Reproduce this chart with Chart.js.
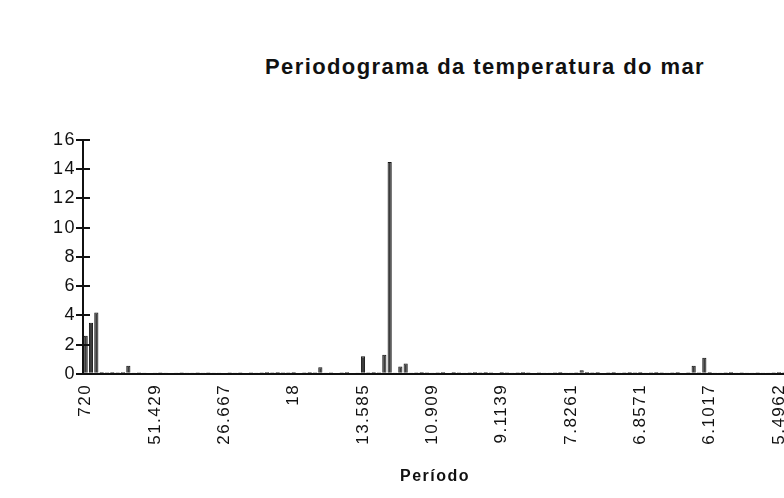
<!DOCTYPE html>
<html>
<head>
<meta charset="utf-8">
<script src="https://cdn.jsdelivr.net/npm/chart.js@4/dist/chart.umd.min.js"></script>
<style>
  html, body { margin: 0; padding: 0; background: #fff; overflow: hidden; }
  #wrap { position: relative; width: 784px; height: 498px; overflow: hidden; }
  #title {
    position: absolute; left: 235px; width: 500px; top: 54px;
    text-align: center; font: bold 22px "Liberation Sans", Arial, sans-serif; color: #111;
    letter-spacing: 1.4px; white-space: nowrap;
  }
  canvas { position: absolute; left: 0; top: 0; }
</style>
</head>
<body>
<div id="wrap">
  <div id="title">Periodograma da temperatura do mar</div>
  <canvas id="myChart" width="787" height="498"></canvas>
</div>
<script>
// tick labels (period = 720 / k), shown every 13 categories
const periodTicks = ["720", "51.429", "26.667", "18", "13.585", "10.909", "9.1139", "7.8261", "6.8571", "6.1017", "5.4962"];
const tickStep = 13;

// periodogram values, one per harmonic (k = 1 .. 132)
const periodogram = [
  2.6, 3.5, 4.2, 0.12, 0.1, 0.12, 0.1, 0.13, 0.55, 0.05,
  0.1, 0.03, 0.08, 0.02, 0.1, 0.02, 0.08, 0.02, 0.1, 0.02,
  0.06, 0.1, 0.02, 0.1, 0.03, 0.02, 0.08, 0.1, 0.04, 0.1,
  0.08, 0.1, 0.03, 0.1, 0.12, 0.1, 0.12, 0.1, 0.1, 0.12,
  0.08, 0.1, 0.12, 0.1, 0.45, 0.03, 0.1, 0.08, 0.1, 0.12,
  0.08, 0.03, 1.2, 0.1, 0.12, 0.1, 1.3, 14.5, 0.02, 0.5,
  0.7, 0.04, 0.1, 0.12, 0.1, 0.02, 0.1, 0.12, 0.08, 0.12,
  0.1, 0.04, 0.1, 0.12, 0.1, 0.12, 0.1, 0.08, 0.12, 0.1,
  0.02, 0.1, 0.12, 0.1, 0.08, 0.1, 0.02, 0.03, 0.1, 0.12,
  0.02, 0.03, 0.1, 0.25, 0.12, 0.1, 0.12, 0.08, 0.1, 0.12,
  0.02, 0.1, 0.12, 0.1, 0.12, 0.03, 0.1, 0.12, 0.1, 0.02,
  0.1, 0.12, 0.08, 0.1, 0.55, 0.1, 1.1, 0.12, 0.02, 0.03,
  0.1, 0.12, 0.02, 0.1, 0.03, 0.02, 0.1, 0.02, 0.03, 0.1,
  0.12, 0.1
];
const categories = periodogram.map((v, i) => i);

const font = "'Liberation Sans', Arial, sans-serif";

// wider letter spacing like the original chart's text
const spacing = {
  id: "spacing",
  beforeLayout(chart) { chart.ctx.letterSpacing = "1.5px"; },
  beforeDraw(chart) { chart.ctx.letterSpacing = "1.5px"; },
};

// short tick marks on the inner side of the y axis
const innerTicks = {
  id: "innerTicks",
  afterDraw(chart) {
    const y = chart.scales.y;
    const ctx = chart.ctx;
    ctx.save();
    ctx.strokeStyle = "#111";
    ctx.lineWidth = 2;
    y.ticks.forEach((t) => {
      const py = Math.round(y.getPixelForValue(t.value));
      ctx.beginPath();
      ctx.moveTo(y.right, py);
      ctx.lineTo(y.right + 7, py);
      ctx.stroke();
    });
    ctx.restore();
  },
};

const ctx = document.getElementById("myChart").getContext("2d");
const chart = new Chart(ctx, {
  type: "bar",
  data: {
    labels: categories,
    datasets: [
      {
        data: periodogram,
        backgroundColor: "#3c3c3c",
        borderColor: "#111",
        borderWidth: 1,
        barPercentage: 0.78,
        categoryPercentage: 1.0,
      },
    ],
  },
  options: {
    responsive: false,
    animation: false,
    layout: { padding: { top: 140, right: 0, left: 0, bottom: 12 } },
    plugins: { legend: { display: false }, tooltip: { enabled: false } },
    scales: {
      y: {
        min: 0,
        max: 16,
        ticks: { stepSize: 2, color: "#111", font: { family: font, size: 18 }, padding: 0 },
        grid: { drawOnChartArea: false, drawTicks: true, tickLength: 7, color: "#111", lineWidth: 2 },
        border: { color: "#111", width: 2 },
        afterFit(scale) { scale.width = 83; },
      },
      x: {
        ticks: {
          autoSkip: false,
          maxRotation: 90,
          minRotation: 90,
          color: "#111",
          font: { family: font, size: 17 },
          padding: 10,
          callback: (val, i) => (i % tickStep === 0 ? periodTicks[i / tickStep] : ""),
        },
        grid: { display: false, drawTicks: false },
        border: { color: "#111", width: 2 },
        title: {
          display: true,
          text: "Período",
          color: "#111",
          font: { family: font, size: 16, weight: "bold" },
          padding: { top: 12, bottom: 0 },
        },
        afterFit(scale) {
          scale.paddingLeft = 0;
          scale.paddingRight = 0;
        },
      },
    },
  },
  plugins: [spacing, innerTicks],
});
</script>
</body>
</html>
